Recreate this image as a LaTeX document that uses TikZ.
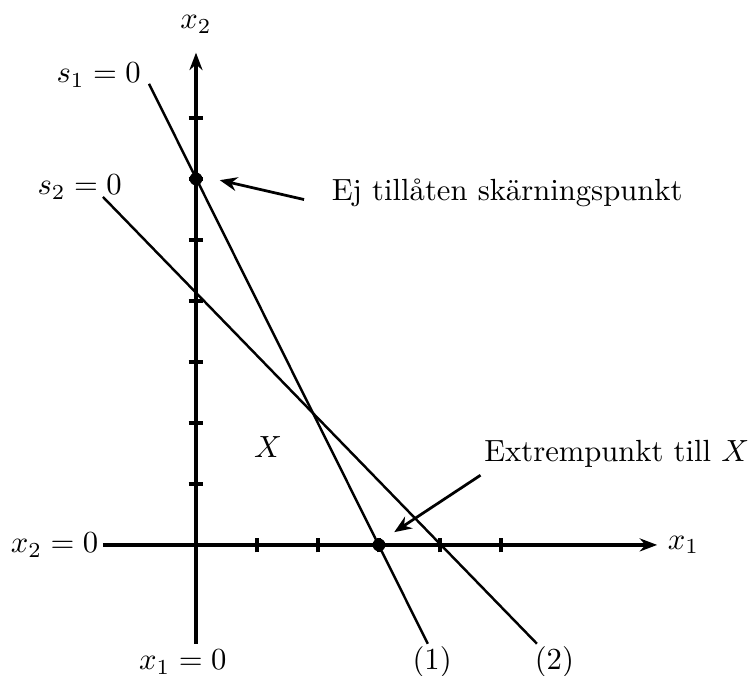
\documentclass[tikz,border=0pt]{standalone}
\usepackage{tikz}
\usetikzlibrary{
    arrows.meta,        % pilspetsar
    calc,               % koordinatberäkningar
    positioning         % relativ placering av noder
}

\begin{document}
\begin{tikzpicture}[x=0.7cm, y=0.7cm,
        axel/.style={line width=1.2pt, -{Stealth[length=2mm, width=1.5mm]}},
        grans/.style={line width=0.8pt},
        pil/.style={line width=0.9pt, -{Stealth[length=2mm, width=1.6mm]}},
        streck/.style={line width=1.2pt},
        punkt/.style={circle, fill, inner sep=0pt, minimum size=4.2pt}]

        \useasboundingbox (-3.213,-2.148) rectangle (9.066,8.934);

        % Exempel: axlar
        \coordinate (O) at (0,0);
        \coordinate (xs) at (-1.525,0);
        \coordinate (xe) at (7.56,0);
        \coordinate (ys) at (0,-1.62);
        \coordinate (ye) at (0,8.07);
        \draw[axel] (xs) -- (xe);
        \draw[axel] (ys) -- (ye);

        % Exempel: skalstreck
        \foreach \i in {1,...,5}
            \draw[streck] (\i,-0.12) -- (\i,0.12);
        \foreach \j in {1,...,7}
            \draw[streck] (-0.12,\j) -- (0.12,\j);

        % Exempel: bivillkor (1) och (2)
        \coordinate (l1a) at (-0.77,7.56);
        \coordinate (l1b) at (3.80,-1.62);
        \coordinate (l2a) at (-1.525,5.705);
        \coordinate (l2b) at (5.59,-1.62);
        \draw[grans] (l1a) -- (l1b);
        \draw[grans] (l2a) -- (l2b);

        % Exempel: skärningspunkter
        \node[punkt] (P) at (0,6) {};
        \node[punkt] (Q) at (3,0) {};

        % Exempel: etiketter
        \node (x1) [right=0pt of xe] {$x_1$};
        \node (x2) [above=1mm of ye] {$x_2$};
        \node (x2noll) [left=-2pt of xs] {$x_2 = 0$};
        \node (x1noll) [below=-0.5mm of ys, xshift=-1.5mm] {$x_1 = 0$};
        \node (s1) [left=-0.3mm of l1a, yshift=1mm] {$s_1 = 0$};
        \node (s2) [above left=-1.5mm and -3.4mm of l2a] {$s_2 = 0$};
        \node (b1) [below=-0.9mm of l1b, xshift=0.5mm] {(1)};
        \node (b2) [below=-0.9mm of l2b, xshift=2mm] {(2)};
        \node (X) at (1.18,1.61) {$X$};

        % Exempel: förklarande pilar
        \node (ej) [anchor=west] at (2.05,5.77) {Ej tillåten skärningspunkt};
        \coordinate (ejspets) at (0.39,5.98);
        \draw[pil, shorten <=2mm] ([yshift=-1.2mm]ej.west) -- (ejspets);

        \node (extrem) [anchor=west] at (4.55,1.5) {Extrempunkt till $X$};
        \coordinate (exspets) at (3.25,0.21);
        \draw[pil] ([xshift=0.8mm, yshift=0.3mm]extrem.south west) -- (exspets);

    \end{tikzpicture}
\end{document}
